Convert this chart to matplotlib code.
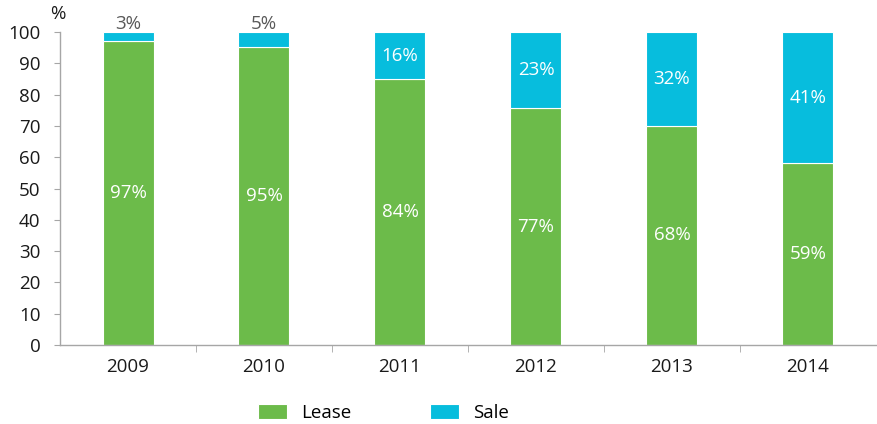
import matplotlib
matplotlib.use("Agg")
import matplotlib.pyplot as plt
import numpy as np

years = ["2009", "2010", "2011", "2012", "2013", "2014"]
lease = [97.0, 95.3, 84.9, 75.7, 70.1, 58.1]
sale = [100 - v for v in lease]
lease_labels = ["97%", "95%", "84%", "77%", "68%", "59%"]
sale_labels = ["3%", "5%", "16%", "23%", "32%", "41%"]

green = "#6CBB4A"
cyan = "#07BDDD"
spine_c = "#A6A6A6"
fs = 13.5

plt.rcParams['font.family'] = ['Open Sans', 'DejaVu Sans']

fig = plt.figure(figsize=(8.77, 4.24), dpi=100)
ax = fig.add_axes([60/877, 1-345/424, 816/877, 313/424])

x = np.arange(len(years))
w = 0.375
ax.bar(x, lease, w, color=green, edgecolor="white", linewidth=0.8, label="Lease")
ax.bar(x, sale, w, bottom=lease, color=cyan, edgecolor="white", linewidth=0.8, label="Sale")

for i in range(len(years)):
    ax.text(x[i], lease[i]/2, lease_labels[i], ha="center", va="center",
            color="white", fontsize=fs)
    if sale[i] < 8:
        ax.text(x[i], 99.6, sale_labels[i], ha="center", va="bottom",
                color="#595959", fontsize=fs)
    else:
        ax.text(x[i], lease[i] + sale[i]/2, sale_labels[i], ha="center", va="center",
                color="white", fontsize=fs)

ax.set_xlim(-0.5, len(years) - 0.5)
ax.set_ylim(0, 100)
ax.set_yticks(range(0, 101, 10))
ax.set_xticks(x)
ax.set_xticklabels(years)
ax.set_xticks(np.arange(0.5, len(years) - 1, 1), minor=True)

for s in ["top", "right"]:
    ax.spines[s].set_visible(False)
for s in ["left", "bottom"]:
    ax.spines[s].set_color(spine_c)
    ax.spines[s].set_linewidth(1.0)

ax.tick_params(axis="y", colors=spine_c, labelcolor="#1a1a1a", labelsize=fs, length=4, pad=10)
ax.tick_params(axis="x", which="major", length=0, labelcolor="#1a1a1a", labelsize=fs, pad=9)
ax.tick_params(axis="x", which="minor", length=5, color=spine_c)

ax.text(-0.003, 1.03, "%", transform=ax.transAxes, fontsize=fs, color="#1a1a1a",
        ha="center", va="bottom")

leg = fig.legend(loc="lower left", bbox_to_anchor=(258/877, 2/424), ncol=2, frameon=False,
                 fontsize=fs, handlelength=1.55, handleheight=0.85, columnspacing=4.2,
                 handletextpad=0.75, borderpad=0, borderaxespad=0)

fig.savefig("out.png", dpi=100)
